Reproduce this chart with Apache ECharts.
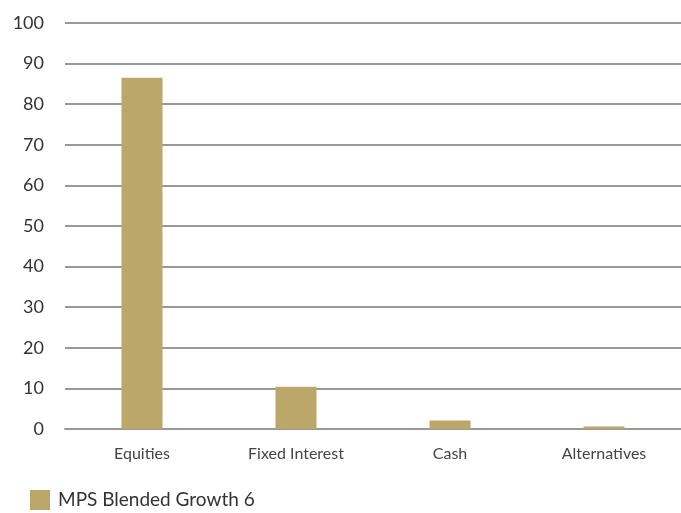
<!DOCTYPE html>
<html>
<head>
<meta charset="utf-8">
<script src="https://cdn.jsdelivr.net/npm/echarts@6/dist/echarts.min.js"></script>
<style>
  html, body { margin: 0; padding: 0; background: #fff; }
  #chart { width: 681px; height: 513px; }
</style>
</head>
<body>
<div id="chart"></div>
<script>
const categories = ['Equities', 'Fixed Interest', 'Cash', 'Alternatives']
const seriesName = 'MPS Blended Growth 6'
const values = [86.5, 10.4, 2.1, 0.6]

const myChart = echarts.init(document.getElementById('chart'))
const option = {
  animation: false,
  textStyle: { fontFamily: 'Lato, sans-serif' },
  grid: { left: 65, right: -4, top: 23, bottom: 84, containLabel: false },
  legend: {
    data: [seriesName],
    left: 30,
    top: 490,
    padding: 0,
    icon: 'rect',
    itemWidth: 20,
    itemHeight: 20,
    textStyle: { fontSize: 19, color: '#333', padding: [0, 0, 0, 3] }
  },
  xAxis: {
    type: 'category',
    data: categories,
    axisLine: { lineStyle: { color: '#999', width: 2 } },
    axisTick: { show: false },
    axisLabel: { color: '#444', fontSize: 16, margin: 17 }
  },
  yAxis: {
    type: 'value',
    min: 0,
    max: 100,
    interval: 10,
    axisLine: { show: false },
    axisTick: { show: false },
    axisLabel: { color: '#333', fontSize: 18, margin: 21 },
    splitLine: { lineStyle: { color: '#999', width: 2 } }
  },
  series: [
    {
      name: seriesName,
      type: 'bar',
      barWidth: 41,
      data: values,
      itemStyle: { color: '#bba76a' }
    }
  ]
}
myChart.setOption(option)
</script>
</body>
</html>
